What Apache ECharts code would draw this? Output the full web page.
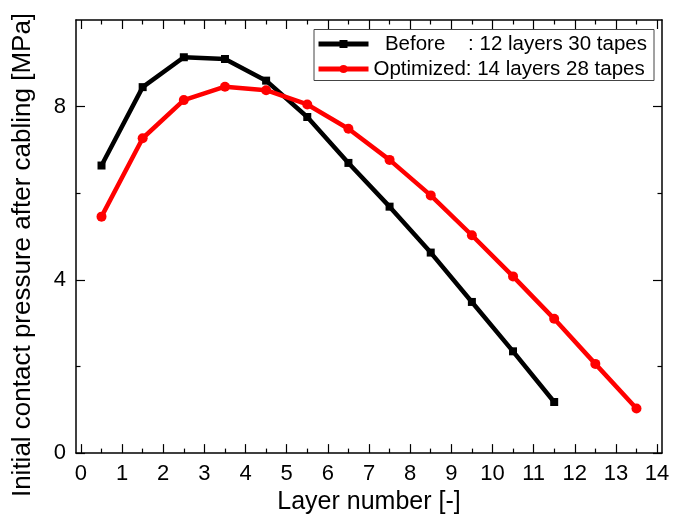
<!DOCTYPE html>
<html>
<head>
<meta charset="utf-8">
<script src="https://cdn.jsdelivr.net/npm/echarts@6/dist/echarts.min.js"></script>
<style>
  html, body { margin: 0; padding: 0; background: #fff; }
  #chart { width: 688px; height: 520px; }
</style>
</head>
<body>
<div id="chart"></div>
<script>
// Contact pressure per layer after cabling, two winding layouts
const beforeLayers = [0.5, 1.5, 2.5, 3.5, 4.5, 5.5, 6.5, 7.5, 8.5, 9.5, 10.5, 11.5];
const beforePressure = [6.64, 8.45, 9.14, 9.10, 8.60, 7.76, 6.70, 5.69, 4.63, 3.49, 2.35, 1.18];
const optimizedLayers = [0.5, 1.5, 2.5, 3.5, 4.5, 5.5, 6.5, 7.5, 8.5, 9.5, 10.5, 11.5, 12.5, 13.5];
const optimizedPressure = [5.46, 7.27, 8.15, 8.46, 8.38, 8.05, 7.49, 6.77, 5.95, 5.03, 4.08, 3.10, 2.06, 1.03];

const beforeName = '  Before    : 12 layers 30 tapes';
const optimizedName = 'Optimized: 14 layers 28 tapes';

// Tick values
const xMajorTicks = [0, 1, 2, 3, 4, 5, 6, 7, 8, 9, 10, 11, 12, 13, 14];
const xMinorTicks = [0.5, 1.5, 2.5, 3.5, 4.5, 5.5, 6.5, 7.5, 8.5, 9.5, 10.5, 11.5, 12.5, 13.5];
const yMajorTicks = [0, 4, 8];
const yMinorTicks = [2, 6];

const FONT = '"Liberation Sans", Arial, sans-serif';
const X_MIN = -0.12, X_MAX = 14.12, Y_MIN = 0, Y_MAX = 10;

function pairs(xs, ys) { return xs.map((x, i) => [x, ys[i]]); }

function xAxisDef(position, ticks, len, withLine, withLabels) {
  return {
    type: 'value', position, min: X_MIN, max: X_MAX,
    axisLine: { show: withLine, onZero: false, lineStyle: { color: '#000', width: 1.5 } },
    axisTick: { show: true, inside: true, length: len, customValues: ticks,
                lineStyle: { color: '#000', width: 1.2 } },
    minorTick: { show: false },
    splitLine: { show: false },
    axisLabel: withLabels
      ? { show: true, customValues: xMajorTicks, fontSize: 22, margin: 10, color: '#000', fontFamily: FONT }
      : { show: false },
    name: withLabels ? 'Layer number [-]' : '',
    nameLocation: 'middle', nameGap: 33,
    nameTextStyle: { fontSize: 25, color: '#000', fontFamily: FONT }
  };
}

function yAxisDef(position, ticks, len, withLine, withLabels) {
  return {
    type: 'value', position, min: Y_MIN, max: Y_MAX,
    axisLine: { show: withLine, onZero: false, lineStyle: { color: '#000', width: 1.5 } },
    axisTick: { show: true, inside: true, length: len, customValues: ticks,
                lineStyle: { color: '#000', width: 1.2 } },
    minorTick: { show: false },
    splitLine: { show: false },
    axisLabel: withLabels
      ? { show: true, customValues: yMajorTicks, fontSize: 22, margin: 10, color: '#000', fontFamily: FONT }
      : { show: false }
  };
}

const chart = echarts.init(document.getElementById('chart'), null, { renderer: 'canvas' });

chart.setOption({
  animation: false,
  backgroundColor: '#fff',
  grid: { left: 76, right: 26, top: 20, bottom: 64.5, containLabel: false },
  xAxis: [
    xAxisDef('bottom', xMajorTicks, 9, true, true),
    xAxisDef('bottom', xMinorTicks, 4.5, false, false),
    xAxisDef('top', xMajorTicks, 9, true, false),
    xAxisDef('top', xMinorTicks, 4.5, false, false)
  ],
  yAxis: [
    yAxisDef('left', yMajorTicks, 9, true, true),
    yAxisDef('left', yMinorTicks, 4.5, false, false),
    yAxisDef('right', yMajorTicks, 9, true, false),
    yAxisDef('right', yMinorTicks, 4.5, false, false)
  ],
  legend: {
    orient: 'vertical',
    right: 34, top: 29.5,
    padding: [4, 7, 1, 2],
    itemGap: 4,
    itemWidth: 50, itemHeight: 10,
    backgroundColor: '#fff',
    borderColor: '#444', borderWidth: 1,
    lineStyle: { width: 5 },
    textStyle: { fontSize: 20.5, color: '#000', fontFamily: FONT, padding: [0, 0, 0, 0] },
    data: [beforeName, optimizedName]
  },
  graphic: [{
    type: 'text',
    x: 23, y: 255,
    rotation: Math.PI / 2,
    style: {
      text: 'Initial contact pressure after cabling [MPa]',
      fontSize: 26, fontFamily: FONT, fill: '#000',
      align: 'center', verticalAlign: 'middle'
    }
  }],
  series: [
    {
      name: beforeName, type: 'line',
      xAxisIndex: 0, yAxisIndex: 0,
      data: pairs(beforeLayers, beforePressure),
      symbol: 'rect', symbolSize: 8,
      itemStyle: { color: '#000' },
      lineStyle: { color: '#000', width: 4.5 }
    },
    {
      name: optimizedName, type: 'line',
      xAxisIndex: 0, yAxisIndex: 0,
      data: pairs(optimizedLayers, optimizedPressure),
      symbol: 'circle', symbolSize: 10,
      itemStyle: { color: '#ff0000' },
      lineStyle: { color: '#ff0000', width: 4.5 }
    }
  ]
});
</script>
</body>
</html>
